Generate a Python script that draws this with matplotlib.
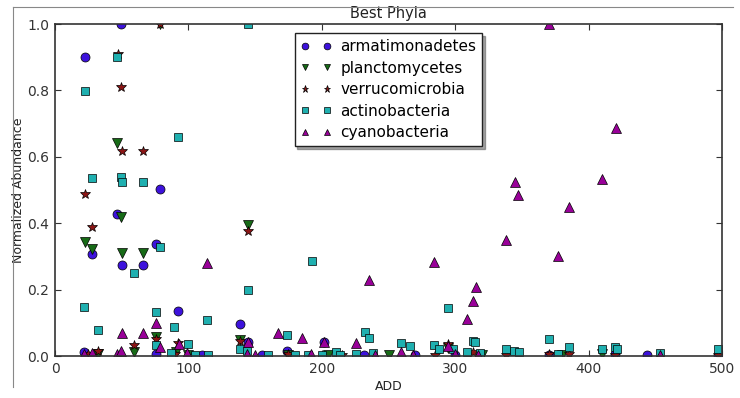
import matplotlib
matplotlib.use("Agg")
import matplotlib.pyplot as plt
from matplotlib.lines import Line2D

# dados (ADD, abundancia normalizada)
arm_x = [49.5, 22.2, 78.7, 46.2, 28, 75.7, 50.5, 65.7, 92.5, 138.7, 21.5, 75.7,
         174, 201.6, 145, 443.5, 419.8, 497, 110, 232, 370.5, 300, 155, 270]
arm_y = [1.0, 0.9, 0.503, 0.427, 0.307, 0.337, 0.275, 0.275, 0.136, 0.096, 0.013, 0.005,
         0.016, 0.043, 0.043, 0.002, 0.005, 0.003, 0.003, 0.003, 0.004, 0.003, 0.003, 0.002]

pla_x = [78.7, 46.5, 49.5, 22.2, 28, 50.5, 65.7, 144.4, 75.7, 138.7, 59.5, 90.7,
         294.8, 409.8, 32.5, 100, 175, 205, 250, 320, 380]
pla_y = [1.0, 0.643, 0.418, 0.344, 0.321, 0.309, 0.309, 0.395, 0.056, 0.048, 0.012, 0.013,
         0.025, 0.006, 0.005, 0.004, 0.004, 0.003, 0.003, 0.004, 0.003]

ver_x = [78.7, 47, 49.2, 50.5, 65.7, 22.2, 28, 144.4, 75.7, 59.5, 92.5, 32.5,
         294.8, 313.6, 370.5, 385.5, 419.8, 138.7, 25, 175, 215, 285, 337.8, 497, 90]
ver_y = [1.0, 0.91, 0.811, 0.617, 0.617, 0.488, 0.39, 0.377, 0.052, 0.032, 0.038, 0.016,
         0.035, 0.011, 0.005, 0.005, 0.004, 0.045, 0.005, 0.005, 0.003, 0.003, 0.003, 0.002, 0.005]

act_x = [145, 46.5, 22.2, 92, 28, 49.2, 50.5, 65.7, 78.7, 59.5, 192.4, 145, 21.5,
         75.7, 113.7, 32.5, 89, 99.5, 75.7, 138.7, 143.7, 174, 211, 232.4, 235.6,
         259.4, 266, 284.3, 288, 298, 294.8, 313.6, 314.9, 308.6, 337.8, 344.3, 348,
         370.5, 377.3, 385.5, 409.8, 419.8, 421, 453.5, 496.8, 87, 214, 225.6, 238.6,
         318.6, 160, 190, 200, 105, 115, 180]
act_y = [1.0, 0.9, 0.798, 0.661, 0.535, 0.538, 0.524, 0.524, 0.327, 0.249, 0.287, 0.199, 0.148,
         0.134, 0.108, 0.078, 0.088, 0.036, 0.033, 0.02, 0.016, 0.062, 0.013, 0.071, 0.055,
         0.038, 0.031, 0.033, 0.022, 0.022, 0.146, 0.046, 0.041, 0.013, 0.022, 0.016, 0.011,
         0.05, 0.006, 0.026, 0.022, 0.028, 0.022, 0.01, 0.022, 0.008, 0.004, 0.005, 0.008,
         0.008, 0.003, 0.004, 0.004, 0.003, 0.003, 0.004]

cya_x = [370.3, 420.5, 344.8, 346.8, 409.8, 385.5, 337.8, 377.3, 284.3, 235.6, 315.4,
         313.6, 308.6, 114, 167, 185.4, 201.6, 145, 93, 75.7, 50, 65.7, 78.7, 225.6,
         259.4, 294.8, 28, 46.7, 49.5, 21.5, 99, 453.5, 143.7, 192, 240, 268, 300, 317, 150]
cya_y = [1.0, 0.688, 0.523, 0.485, 0.532, 0.45, 0.348, 0.30, 0.284, 0.229, 0.207,
         0.167, 0.112, 0.281, 0.07, 0.055, 0.043, 0.043, 0.035, 0.1, 0.07, 0.07, 0.028, 0.038,
         0.013, 0.03, 0.008, 0.006, 0.015, 0.005, 0.008, 0.004, 0.006, 0.005, 0.004, 0.003,
         0.005, 0.004, 0.003]

series = [
    ("armatimonadetes", arm_x, arm_y, 'o', '#3d12dc', 6.5),
    ("planctomycetes", pla_x, pla_y, 'v', '#176b17', 6.5),
    ("verrucomicrobia", ver_x, ver_y, '*', '#8b1515', 7),
    ("actinobacteria", act_x, act_y, 's', '#1fb0b0', 6),
    ("cyanobacteria", cya_x, cya_y, '^', '#990099', 6.5),
]

fig = plt.figure(figsize=(7.4, 3.98), dpi=100)
ax = fig.add_axes([55 / 740, 1 - 356 / 398, 667 / 740, 332 / 398])

for nome, xs, ys, mk, cor, ms in series:
    ax.plot(xs, ys, linestyle='none', marker=mk, color=cor, markersize=ms,
            markeredgecolor='black', markeredgewidth=0.5, label=nome)

ax.set_xlim(0, 500)
ax.set_ylim(0, 1.0)
ax.set_xticks([0, 100, 200, 300, 400, 500])
ax.set_yticks([0.0, 0.2, 0.4, 0.6, 0.8, 1.0])
ax.set_yticklabels(["0.0", "0.2", "0.4", "0.6", "0.8", "1.0"])
ax.tick_params(direction='in', top=True, right=True, labelsize=10, length=4,
               colors='#333333', pad=4)
for spine in ax.spines.values():
    spine.set_color('#333333')
    spine.set_linewidth(1.2)

ax.set_xlabel("ADD", fontsize=9, color='#222222', labelpad=3)
ax.set_ylabel("Normalized Abundance", fontsize=9, color='#222222', labelpad=2)
ax.set_title("Best Phyla", fontsize=10.5, color='#222222', pad=4)

leg = ax.legend(loc='upper center', numpoints=2, markerscale=0.75, fontsize=11,
                shadow=True, fancybox=False, borderaxespad=0.6, handletextpad=0.6,
                labelspacing=0.42, borderpad=0.4)
leg.get_frame().set_edgecolor('#222222')
leg.get_frame().set_linewidth(1.0)

# borda da captura original
fig.add_artist(Line2D([13 / 740, 733 / 740], [1 - 7 / 398, 1 - 7 / 398],
                      color='#888888', linewidth=0.8))
fig.add_artist(Line2D([13 / 740, 13 / 740], [1 - 7 / 398, 1 - 387 / 398],
                      color='#888888', linewidth=0.8))

fig.savefig("out.png", dpi=100, facecolor='white')
